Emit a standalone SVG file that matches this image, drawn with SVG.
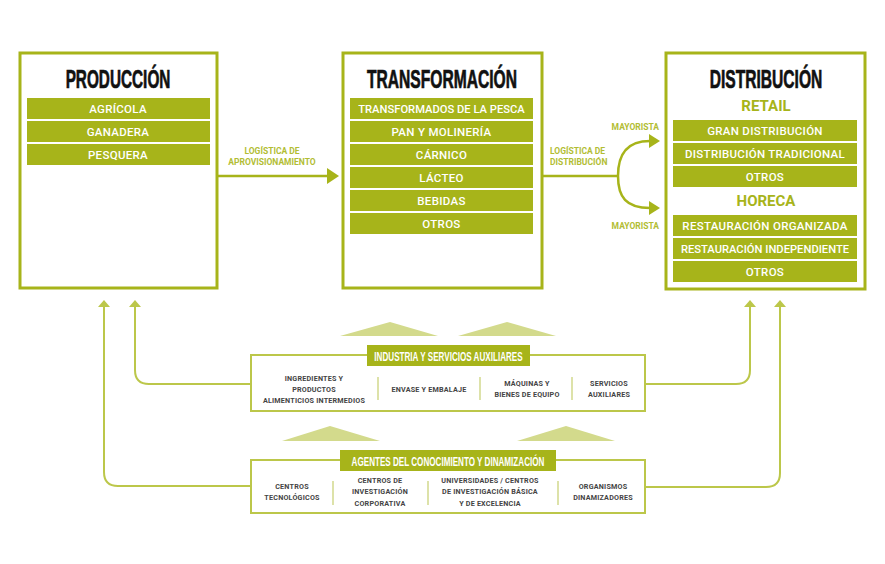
<svg xmlns="http://www.w3.org/2000/svg" width="885" height="564" viewBox="0 0 885 564">
<style>
.box{fill:#fff;stroke:#a7b41a;stroke-width:3}
.bar{fill:#a7b41a}
.bt{font-family:Roboto,"Liberation Sans",sans-serif;font-weight:500;font-size:11.5px;fill:#fff;text-anchor:middle;letter-spacing:0.3px}
.tight{letter-spacing:0px;font-size:11.2px}
.title{font-family:"Liberation Sans",Arial,sans-serif;font-weight:bold;font-size:26px;fill:#111;stroke:#111;stroke-width:0.7;text-anchor:middle}
.sub{font-family:Roboto,"Liberation Sans",sans-serif;font-weight:bold;font-size:15px;fill:#a7b41a;text-anchor:middle}
.lbl{font-family:Roboto,"Liberation Sans",sans-serif;font-weight:bold;font-size:8.5px;fill:#b2bd33}
.ln{fill:none;stroke:#a7b41a;stroke-width:2.5}
.ln2{fill:none;stroke:#bcc74a;stroke-width:2}
.ah{fill:#a7b41a}
.ah2{fill:#bcc74a}
.lbox{fill:#fff;stroke:#bcc74a;stroke-width:2}
.hdr{fill:#a7b41a}
.ht{font-family:"Liberation Sans",Arial,sans-serif;font-weight:bold;font-size:13.5px;fill:#fff;text-anchor:middle}
.ct{font-family:Roboto,"Liberation Sans",sans-serif;font-weight:bold;font-size:7.2px;fill:#444;text-anchor:middle;letter-spacing:0.2px}
.dv{stroke:#d2d98c;stroke-width:1.5}
.tri{fill:#d3da8c}
</style>

<g id="produccion">
<rect class="box" x="20" y="53" width="197" height="235"/>
<text class="title" transform="translate(118,88) scale(0.59,1)">PRODUCCIÓN</text>
<rect class="bar" x="27" y="98" width="183" height="21"/>
<text class="bt" x="118" y="113">AGRÍCOLA</text>
<rect class="bar" x="27" y="121" width="183" height="21"/>
<text class="bt" x="118" y="136">GANADERA</text>
<rect class="bar" x="27" y="144" width="183" height="21"/>
<text class="bt" x="118" y="159">PESQUERA</text>
</g>

<g id="transformacion">
<rect class="box" x="343" y="53" width="199" height="235"/>
<text class="title" transform="translate(442,88) scale(0.6,1)">TRANSFORMACIÓN</text>
<rect class="bar" x="350" y="98" width="183" height="21"/>
<text class="bt tight" x="441.5" y="113">TRANSFORMADOS DE LA PESCA</text>
<rect class="bar" x="350" y="121" width="183" height="21"/>
<text class="bt" x="441.5" y="136">PAN Y MOLINERÍA</text>
<rect class="bar" x="350" y="144" width="183" height="21"/>
<text class="bt" x="441.5" y="159">CÁRNICO</text>
<rect class="bar" x="350" y="167" width="183" height="21"/>
<text class="bt" x="441.5" y="182">LÁCTEO</text>
<rect class="bar" x="350" y="190" width="183" height="21"/>
<text class="bt" x="441.5" y="205">BEBIDAS</text>
<rect class="bar" x="350" y="213" width="183" height="21"/>
<text class="bt" x="441.5" y="228">OTROS</text>
</g>

<g id="distribucion">
<rect class="box" x="666" y="53" width="199" height="236"/>
<text class="title" transform="translate(766,88) scale(0.6,1)">DISTRIBUCIÓN</text>
<text class="sub" x="766" y="111">RETAIL</text>
<rect class="bar" x="673" y="120" width="184" height="21"/>
<text class="bt" x="765" y="135">GRAN DISTRIBUCIÓN</text>
<rect class="bar" x="673" y="143" width="184" height="21"/>
<text class="bt" x="765" y="158">DISTRIBUCIÓN TRADICIONAL</text>
<rect class="bar" x="673" y="166" width="184" height="21"/>
<text class="bt" x="765" y="181">OTROS</text>
<text class="sub" x="766" y="206">HORECA</text>
<rect class="bar" x="673" y="215" width="184" height="21"/>
<text class="bt" x="765" y="230">RESTAURACIÓN ORGANIZADA</text>
<rect class="bar" x="673" y="238" width="184" height="21"/>
<text class="bt tight" x="765" y="253">RESTAURACIÓN INDEPENDIENTE</text>
<rect class="bar" x="673" y="261" width="184" height="21"/>
<text class="bt" x="765" y="276">OTROS</text>
</g>

<g id="industria">
<polygon class="tri" points="340,336 390,322 438,336"/>
<polygon class="tri" points="458,336 507,322 556,336"/>
<rect class="lbox" x="251" y="355" width="394" height="56"/>
<rect class="hdr" x="367" y="345" width="163" height="21"/>
<text class="ht" transform="translate(448.5,360.5) scale(0.6,1)">INDUSTRIA Y SERVICIOS AUXILIARES</text>
<text class="ct" x="314" y="381">INGREDIENTES Y</text>
<text class="ct" x="314" y="392">PRODUCTOS</text>
<text class="ct" x="314" y="403">ALIMENTICIOS INTERMEDIOS</text>
<line class="dv" x1="378" y1="377" x2="378" y2="400"/>
<text class="ct" x="429" y="392">ENVASE Y EMBALAJE</text>
<line class="dv" x1="480" y1="377" x2="480" y2="400"/>
<text class="ct" x="527" y="386">MÁQUINAS Y</text>
<text class="ct" x="527" y="397">BIENES DE EQUIPO</text>
<line class="dv" x1="572" y1="377" x2="572" y2="400"/>
<text class="ct" x="609" y="386">SERVICIOS</text>
<text class="ct" x="609" y="397">AUXILIARES</text>
</g>

<g id="agentes">
<polygon class="tri" points="282,441 330,426 380,441"/>
<polygon class="tri" points="517,441 566,426 615,441"/>
<rect class="lbox" x="251" y="460" width="394" height="53"/>
<rect class="hdr" x="340" y="450" width="216" height="21"/>
<text class="ht" transform="translate(448,465.5) scale(0.6,1)">AGENTES DEL CONOCIMIENTO Y DINAMIZACIÓN</text>
<text class="ct" x="292" y="489">CENTROS</text>
<text class="ct" x="292" y="500">TECNOLÓGICOS</text>
<line class="dv" x1="333" y1="481" x2="333" y2="505"/>
<text class="ct" x="380" y="483">CENTROS DE</text>
<text class="ct" x="380" y="494">INVESTIGACIÓN</text>
<text class="ct" x="380" y="506">CORPORATIVA</text>
<line class="dv" x1="428" y1="481" x2="428" y2="505"/>
<text class="ct" x="490" y="483">UNIVERSIDADES / CENTROS</text>
<text class="ct" x="490" y="494">DE INVESTIGACIÓN BÁSICA</text>
<text class="ct" x="490" y="506">Y DE EXCELENCIA</text>
<line class="dv" x1="558" y1="481" x2="558" y2="505"/>
<text class="ct" x="603" y="489">ORGANISMOS</text>
<text class="ct" x="603" y="500">DINAMIZADORES</text>
</g>

<g id="connectors">
<line class="ln" x1="217" y1="176" x2="328" y2="176"/>
<polygon class="ah" points="327,168 339,176 327,184"/>
<text class="lbl" x="272" y="154" text-anchor="middle">LOGÍSTICA DE</text>
<text class="lbl" x="272" y="165" text-anchor="middle">APROVISIONAMIENTO</text>

<path class="ln" d="M542,176 H618"/>
<path class="ln" d="M618,176 C618,155 626,141 650,141"/>
<path class="ln" d="M618,176 C618,197 626,208 650,208"/>
<polygon class="ah" points="649,134 660,141 649,148"/>
<polygon class="ah" points="649,201 660,208 649,215"/>
<text class="lbl" x="550" y="154">LOGÍSTICA DE</text>
<text class="lbl" x="550" y="165">DISTRIBUCIÓN</text>
<text class="lbl" x="659" y="130" text-anchor="end">MAYORISTA</text>
<text class="lbl" x="659" y="229" text-anchor="end">MAYORISTA</text>

<path class="ln2" d="M251,486 H118 Q104,486 104,472 V306"/>
<polygon class="ah2" points="98,307 104,300 110,307"/>
<path class="ln2" d="M251,384 H149 Q135,384 135,370 V306"/>
<polygon class="ah2" points="129,307 135,300 141,307"/>
<path class="ln2" d="M645,384 H736 Q750,384 750,370 V306"/>
<polygon class="ah2" points="744,307 750,300 756,307"/>
<path class="ln2" d="M645,487 H766 Q780,487 780,473 V306"/>
<polygon class="ah2" points="774,307 780,300 786,307"/>
</g>
</svg>
